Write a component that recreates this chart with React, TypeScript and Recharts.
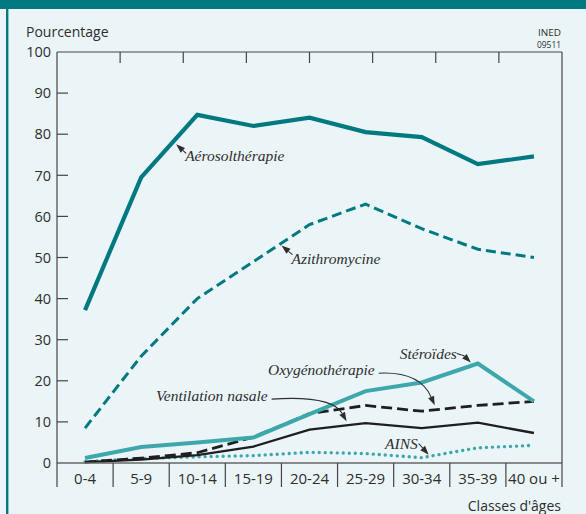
import React from "react";
import { LineChart, Line, XAxis, YAxis, ReferenceDot } from "recharts";

const ages = ["0-4", "5-9", "10-14", "15-19", "20-24", "25-29", "30-34", "35-39", "40 ou +"];
const aerosol = [37.2, 69.5, 84.7, 82, 84, 80.5, 79.3, 72.7, 74.6];
const azithro = [8.5, 26, 40, 49, 58, 63, 57, 52, 50];
const steroides = [1.2, 3.9, 5, 6.2, 11.9, 17.5, 19.6, 24.2, 15];
const oxygeno = [0.2, 1.2, 2.5, 6.3, 12, 14, 12.6, 14, 15];
const ventilation = [0.2, 0.8, 1.9, 4, 8.1, 9.7, 8.5, 9.8, 7.3];
const ains = [0.3, 1.1, 1.5, 1.8, 2.6, 2.3, 1.3, 3.7, 4.3];
const yTicks = [0, 10, 20, 30, 40, 50, 60, 70, 80, 90, 100];
const innerTicks = [10, 20, 30, 40, 50, 60, 70, 80, 90];
const topTicks = [1, 2, 3, 4, 5, 6, 7];

const data = ages.map((age, i) => ({
  age,
  aerosol: aerosol[i],
  azithro: azithro[i],
  steroides: steroides[i],
  oxygeno: oxygeno[i],
  ventilation: ventilation[i],
  ains: ains[i],
}));

const W = 586;
const H = 514;
const PLOT_LEFT = 57;
const PLOT_RIGHT = 562;
const PLOT_TOP = 52;
const PLOT_BOTTOM = 463;
const BAND = (PLOT_RIGHT - PLOT_LEFT) / ages.length;

const TEAL = "#007a80";
const LIGHT_TEAL = "#3ea7ac";
const BG = "#ebf5f8";
const AXIS = "#444";
const INK = "#2e2e2e";
const SANS = "'Open Sans', sans-serif";
const SERIF = "'Liberation Serif', 'Times New Roman', serif";

function LeftTick({ x, y, payload }: any) {
  const v = payload.value;
  return (
    <g>
      {v !== 0 && v !== 100 && (
        <line x1={x + 6} x2={x + 17} y1={y} y2={y} stroke={AXIS} strokeWidth={1.2} />
      )}
      <text x={x} y={y} dy="0.36em" textAnchor="end" fontFamily={SANS} fontSize={14.5} fill={INK}>
        {v}
      </text>
    </g>
  );
}

function BottomTick({ x, y, payload, index }: any) {
  return (
    <g>
      <line x1={x - BAND / 2} x2={x - BAND / 2} y1={y} y2={y + 24} stroke={AXIS} strokeWidth={1.2} />
      {index === ages.length - 1 && (
        <line x1={x + BAND / 2} x2={x + BAND / 2} y1={y} y2={y + 24} stroke={AXIS} strokeWidth={1.2} />
      )}
      <text x={x} y={y + 21} textAnchor="middle" fontFamily={SANS} fontSize={15} fill={INK}>
        {payload.value}
      </text>
    </g>
  );
}

const NoTick = () => <g />;

// label + leader arrow, placed relative to a data point
function Note(props: any) {
  const { cx, cy, label, lx, ly, anchor, tail, ctrl, tip } = props;
  if (cx == null || cy == null) return <g />;
  const T = [cx + tip[0], cy + tip[1]];
  const S = [cx + tail[0], cy + tail[1]];
  const C = ctrl ? [cx + ctrl[0], cy + ctrl[1]] : S;
  const dx = T[0] - C[0];
  const dy = T[1] - C[1];
  const len = Math.hypot(dx, dy) || 1;
  const ux = dx / len;
  const uy = dy / len;
  const hl = 9;
  const hw = 3.2;
  const bx = T[0] - ux * hl;
  const by = T[1] - uy * hl;
  const d = ctrl
    ? `M${S[0]},${S[1]} Q${C[0]},${C[1]} ${bx},${by}`
    : `M${S[0]},${S[1]} L${bx},${by}`;
  return (
    <g>
      <text
        x={cx + lx}
        y={cy + ly}
        textAnchor={anchor}
        fontFamily={SERIF}
        fontStyle="italic"
        fontSize={15.5}
        fill={INK}
      >
        {label}
      </text>
      <path d={d} fill="none" stroke={INK} strokeWidth={1.1} />
      <polygon
        points={`${T[0]},${T[1]} ${bx - uy * hw},${by + ux * hw} ${bx + uy * hw},${by - ux * hw}`}
        fill={INK}
      />
    </g>
  );
}

export default function App() {
  return (
    <div style={{ position: "absolute", left: 0, top: 0, width: W, height: H, background: BG }}>
      <svg width={W} height={H} style={{ position: "absolute", left: 0, top: 0 }}>
        <rect x={0} y={0} width={W} height={9} fill={TEAL} />
        <rect x={6} y={0} width={2.4} height={H} fill={TEAL} />
        <text x={26} y={37} fontFamily={SANS} fontSize={14} fill={INK}>
          Pourcentage
        </text>
        <text x={561} y={35.5} textAnchor="end" fontFamily={SANS} fontSize={9} fill={INK} textLength={23} lengthAdjust="spacingAndGlyphs">
          INED
        </text>
        <text x={561} y={48} textAnchor="end" fontFamily={SANS} fontSize={9} fill={INK} textLength={24} lengthAdjust="spacingAndGlyphs">
          09511
        </text>
        <text x={561} y={511} textAnchor="end" fontFamily={SANS} fontSize={14} fill={INK}>
          Classes d'âges
        </text>
      </svg>
      <div style={{ position: "absolute", left: 0, top: 0 }}>
        <LineChart
          width={W}
          height={H}
          data={data}
          margin={{ top: PLOT_TOP, right: W - PLOT_RIGHT, bottom: H - PLOT_BOTTOM - 30, left: 7 }}
        >
          <XAxis
            xAxisId="b"
            dataKey="age"
            scale="band"
            height={30}
            interval={0}
            tickLine={false}
            tickSize={0}
            tickMargin={0}
            tick={<BottomTick />}
            axisLine={{ stroke: "#666", strokeWidth: 1.4 }}
          />
          <XAxis
            xAxisId="t"
            orientation="top"
            type="number"
            domain={[0, 8]}
            allowDataOverflow
            ticks={topTicks}
            mirror
            tickSize={11}
            tick={NoTick}
            tickLine={{ stroke: AXIS, strokeWidth: 1.2 }}
            axisLine={{ stroke: AXIS, strokeWidth: 1.2 }}
          />
          <YAxis
            yAxisId="l"
            width={50}
            domain={[0, 100]}
            ticks={yTicks}
            interval={0}
            tickLine={false}
            tickSize={0}
            tickMargin={6}
            tick={<LeftTick />}
            axisLine={{ stroke: AXIS, strokeWidth: 1.2 }}
          />
          <YAxis
            yAxisId="r"
            orientation="right"
            mirror
            domain={[0, 100]}
            ticks={innerTicks}
            interval={0}
            tickSize={11}
            tick={NoTick}
            tickLine={{ stroke: AXIS, strokeWidth: 1.2 }}
            axisLine={{ stroke: AXIS, strokeWidth: 1.2 }}
          />

          <Line xAxisId="b" yAxisId="l" dataKey="ains" stroke={LIGHT_TEAL} strokeWidth={3.4} strokeDasharray="0.01 6" strokeLinecap="round" dot={false} isAnimationActive={false} />
          <Line xAxisId="b" yAxisId="l" dataKey="ventilation" stroke="#1e1e1e" strokeWidth={2.3} dot={false} isAnimationActive={false} />
          <Line xAxisId="b" yAxisId="l" dataKey="oxygeno" stroke="#1e1e1e" strokeWidth={2.8} strokeDasharray="11 5" dot={false} isAnimationActive={false} />
          <Line xAxisId="b" yAxisId="l" dataKey="steroides" stroke={LIGHT_TEAL} strokeWidth={4} dot={false} isAnimationActive={false} />
          <Line xAxisId="b" yAxisId="l" dataKey="azithro" stroke={TEAL} strokeWidth={3} strokeDasharray="10 5" dot={false} isAnimationActive={false} />
          <Line xAxisId="b" yAxisId="l" dataKey="aerosol" stroke={TEAL} strokeWidth={4.2} dot={false} isAnimationActive={false} />

          <ReferenceDot xAxisId="b" yAxisId="l" x="5-9" y={aerosol[1]} r={0} ifOverflow="visible"
            shape={(p: any) => <Note {...p} label="Aérosolthérapie" lx={44} ly={-16} anchor="start" tail={[45, -24]} tip={[35, -33]} />} />
          <ReferenceDot xAxisId="b" yAxisId="l" x="20-24" y={azithro[4]} r={0} ifOverflow="visible"
            shape={(p: any) => <Note {...p} label="Azithromycine" lx={-18} ly={39} anchor="start" tail={[-17, 30]} tip={[-28, 21]} />} />
          <ReferenceDot xAxisId="b" yAxisId="l" x="35-39" y={steroides[7]} r={0} ifOverflow="visible"
            shape={(p: any) => <Note {...p} label="Stéroïdes" lx={-21} ly={-5} anchor="end" tail={[-21, -10]} ctrl={[-14, -8]} tip={[-7, -1]} />} />
          <ReferenceDot xAxisId="b" yAxisId="l" x="30-34" y={oxygeno[6]} r={0} ifOverflow="visible"
            shape={(p: any) => <Note {...p} label="Oxygénothérapie" lx={-47} ly={-36} anchor="end" tail={[-43, -38]} ctrl={[-2, -40]} tip={[13, -6]} />} />
          <ReferenceDot xAxisId="b" yAxisId="l" x="25-29" y={ventilation[5]} r={0} ifOverflow="visible"
            shape={(p: any) => <Note {...p} label="Ventilation nasale" lx={-98} ly={-22} anchor="end" tail={[-94, -24]} ctrl={[-34, -28]} tip={[-19, -2]} />} />
          <ReferenceDot xAxisId="b" yAxisId="l" x="30-34" y={ains[6]} r={0} ifOverflow="visible"
            shape={(p: any) => <Note {...p} label="AINS" lx={-4} ly={-9} anchor="end" tail={[-3, -14]} tip={[7, -3]} />} />
        </LineChart>
      </div>
    </div>
  );
}
